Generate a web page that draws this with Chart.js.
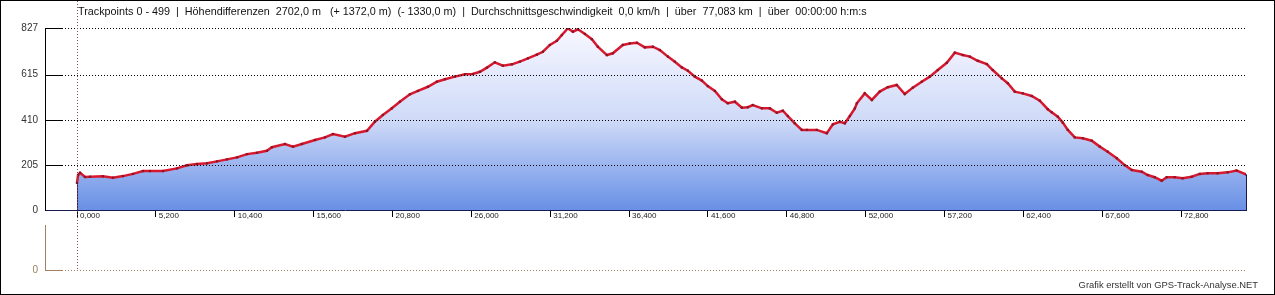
<!DOCTYPE html>
<html>
<head>
<meta charset="utf-8">
<script src="https://cdn.jsdelivr.net/npm/chart.js@4/dist/chart.umd.min.js"></script>
<style>
  html, body { margin: 0; padding: 0; background: #fff; }
  #wrap { width: 1275px; height: 295px; position: relative; }
</style>
</head>
<body>
<div id="wrap"><canvas id="profile" width="1275" height="295"></canvas></div>
<script>
// elevation profile
const distanceKm = [
    0.00, 0.07, 0.20, 0.53, 0.86, 1.71, 2.37, 3.03, 3.69, 4.35,
    4.81, 5.67, 6.59, 7.25, 7.91, 8.57, 9.23, 9.89, 10.55, 11.21,
    11.87, 12.52, 12.85, 13.71, 14.24, 14.83, 15.69, 16.35, 16.88, 17.67,
    18.33, 19.12, 19.64, 20.17, 20.76, 21.29, 21.95, 22.48, 23.14, 23.73,
    24.26, 24.92, 25.58, 26.10, 26.57, 27.03, 27.55, 28.08, 28.68, 29.20,
    29.73, 30.32, 30.72, 31.18, 31.64, 31.97, 32.37, 32.70, 33.03, 33.49,
    33.95, 34.34, 34.94, 35.33, 35.99, 36.45, 36.92, 37.44, 37.97, 38.43,
    38.96, 39.42, 39.88, 40.28, 40.74, 41.20, 41.59, 42.06, 42.52, 42.91,
    43.38, 43.84, 44.23, 44.56, 45.16, 45.68, 46.14, 46.54, 46.87, 47.33,
    47.79, 48.12, 48.78, 49.44, 49.84, 50.30, 50.63, 50.96, 51.29, 51.42,
    51.94, 52.41, 52.93, 53.46, 54.05, 54.58, 55.11, 55.70, 56.23, 56.76,
    57.35, 57.88, 58.41, 58.87, 59.39, 59.99, 60.38, 60.98, 61.37, 61.83,
    62.36, 62.95, 63.48, 64.01, 64.27, 64.67, 65.00, 65.33, 65.79, 66.32,
    66.91, 67.44, 67.96, 68.56, 69.08, 69.55, 70.20, 70.60, 71.06, 71.52,
    71.85, 72.38, 72.90, 73.50, 74.03, 74.55, 75.21, 75.87, 76.46, 77.08
];
const elevationM = [
    123, 159, 169, 150, 151, 153, 147, 154, 164, 177,
    177, 177, 189, 203, 209, 212, 221, 230, 239, 254,
    260, 269, 285, 300, 288, 300, 318, 330, 345, 333,
    349, 360, 401, 432, 462, 492, 526, 541, 560, 583,
    594, 606, 617, 618, 628, 647, 671, 656, 662, 674,
    689, 706, 719, 750, 769, 795, 826, 810, 821, 800,
    776, 742, 704, 712, 750, 757, 760, 739, 742, 727,
    697, 674, 648, 633, 606, 588, 563, 541, 503, 485,
    492, 465, 467, 477, 462, 462, 442, 451, 427, 394,
    364, 364, 364, 349, 389, 401, 394, 427, 462, 485,
    530, 500, 538, 558, 568, 527, 556, 583, 606, 636,
    669, 715, 704, 697, 678, 663, 636, 598, 576, 538,
    530, 518, 497, 458, 444, 424, 397, 364, 330, 326,
    315, 288, 265, 235, 204, 182, 174, 159, 149, 133,
    149, 149, 144, 151, 164, 167, 167, 171, 179, 162
];
const xTickKm = [0, 5.2, 10.4, 15.6, 20.8, 26.0, 31.2, 36.4, 41.6, 46.8, 52.0, 57.2, 62.4, 67.6, 72.8];
const yTickM = [0, 205, 410, 615, 827];
const titleText = 'Trackpoints 0 - 499  |  Höhendifferenzen  2702,0 m   (+ 1372,0 m)  (- 1330,0 m)  |  Durchschnittsgeschwindigkeit  0,0 km/h  |  über  77,083 km  |  über  00:00:00 h:m:s';
const creditText = 'Grafik erstellt von GPS-Track-Analyse.NET';

const FONT = '"Liberation Sans", Arial, sans-serif';

function fillGradient(context) {
    const chart = context.chart;
    const area = chart.chartArea;
    if (!area) return 'rgba(120,150,230,0.6)';
    const g = chart.ctx.createLinearGradient(0, area.top, 0, area.bottom);
    g.addColorStop(0, '#f7f7ff');
    g.addColorStop(0.5, '#d0dbf8');
    g.addColorStop(1, '#6890e6');
    return g;
}

function dotted(ctx, x1, y1, x2, y2, color) {
    ctx.save();
    ctx.strokeStyle = color;
    ctx.lineWidth = 1;
    ctx.setLineDash([1, 2]);
    ctx.beginPath();
    ctx.moveTo(x1, y1);
    ctx.lineTo(x2, y2);
    ctx.stroke();
    ctx.restore();
}

function solid(ctx, x1, y1, x2, y2, color) {
    ctx.save();
    ctx.strokeStyle = color;
    ctx.lineWidth = 1;
    ctx.beginPath();
    ctx.moveTo(x1, y1);
    ctx.lineTo(x2, y2);
    ctx.stroke();
    ctx.restore();
}

// frame, grid, lower panel and texts
const decorPlugin = {
    id: 'decor',
    beforeDraw(chart) {
        const ctx = chart.ctx;
        ctx.save();
        ctx.fillStyle = '#fff';
        ctx.fillRect(0, 0, chart.width, chart.height);
        ctx.restore();
    },
    beforeDatasetsDraw(chart) {
        const y = chart.scales.y;
        const left = chart.chartArea.left;
        yTickM.forEach(v => {
            if (v === 0) return;
            const py = Math.round(y.getPixelForValue(v)) + 0.5;
            solid(chart.ctx, left, py, left + 17, py, '#000');
        });
    },
    afterDatasetsDraw(chart) {
        const ctx = chart.ctx;
        const x = chart.scales.x, y = chart.scales.y;
        const left = chart.chartArea.left, right = chart.chartArea.right;
        const base = Math.round(y.getPixelForValue(0)) + 0.5;

        yTickM.forEach(v => {
            if (v === 0) return;
            const py = Math.round(y.getPixelForValue(v)) + 0.5;
            dotted(ctx, left + 17, py, right, py, '#000');
        });

        // closing edges of the profile polygon
        const n = distanceKm.length;
        const xs = Math.round(x.getPixelForValue(distanceKm[0])) + 0.5;
        const xe = Math.round(x.getPixelForValue(distanceKm[n - 1])) + 0.5;
        solid(ctx, xs, y.getPixelForValue(elevationM[0]), xs, base, '#3a2050');
        solid(ctx, xe, y.getPixelForValue(elevationM[n - 1]), xe, base, '#1a1a50');

        // start marker line
        dotted(ctx, xs, 1, xs, 270, '#8a4a55');

        // lower (empty) panel
        const lowY = 270.5;
        solid(ctx, left + 0.5, 225, left + 0.5, lowY, '#a08060');
        solid(ctx, left, lowY, left + 17, lowY, '#a08060');
        dotted(ctx, left + 17, lowY, right, lowY, '#a08060');
        ctx.save();
        ctx.font = '10px ' + FONT;
        ctx.fillStyle = '#9a8060';
        ctx.textAlign = 'right';
        ctx.textBaseline = 'middle';
        ctx.fillText('0', 38, 270);

        // texts
        ctx.fillStyle = '#111';
        ctx.textAlign = 'left';
        ctx.font = '10.8px ' + FONT;
        ctx.fillText(titleText, 78, 12);
        ctx.fillStyle = '#333';
        ctx.textAlign = 'right';
        ctx.font = '9.4px ' + FONT;
        ctx.fillText(creditText, 1258, 285);
        ctx.restore();

        // outer frame
        ctx.save();
        ctx.strokeStyle = '#000';
        ctx.lineWidth = 1;
        ctx.strokeRect(0.5, 0.5, chart.width - 1, chart.height - 1);
        ctx.restore();
    }
};

const ctx = document.getElementById('profile').getContext('2d');
const chart = new Chart(ctx, {
    type: 'line',
    data: {
        datasets: [{
            data: distanceKm.map((d, i) => ({ x: d, y: elevationM[i] })),
            fill: 'origin',
            backgroundColor: fillGradient,
            borderColor: '#d8182e',
            borderWidth: 2.5,
            pointStyle: 'rect',
            pointRadius: 1.6,
            pointBackgroundColor: '#8c1428',
            pointBorderColor: '#8c1428',
            pointBorderWidth: 0,
            tension: 0
        }]
    },
    options: {
        responsive: false,
        animation: false,
        events: [],
        layout: { padding: { top: 28, right: 29, bottom: 65, left: 0 } },
        plugins: {
            legend: { display: false },
            tooltip: { enabled: false }
        },
        scales: {
            x: {
                type: 'linear',
                min: -2.11,
                max: 77.08,
                afterBuildTicks: s => { s.ticks = xTickKm.map(v => ({ value: v })); },
                afterFit: s => { s.height = 20; },
                ticks: {
                    autoSkip: false,
                    maxRotation: 0,
                    align: 'start',
                    labelOffset: 3,
                    padding: -6,
                    color: '#222',
                    font: { family: FONT, size: 8 },
                    callback: v => v.toFixed(3).replace('.', ',')
                },
                grid: { drawOnChartArea: false, drawTicks: true, tickLength: 7, tickColor: '#000' },
                border: { color: '#1a1a50', width: 1 }
            },
            y: {
                min: 0,
                max: 827,
                afterBuildTicks: s => { s.ticks = yTickM.map(v => ({ value: v })); },
                afterFit: s => { s.width = 45; },
                ticks: {
                    padding: 7,
                    color: '#333',
                    font: { family: FONT, size: 10 }
                },
                grid: { drawOnChartArea: false, drawTicks: false },
                border: { color: '#000', width: 1 }
            }
        }
    },
    plugins: [decorPlugin]
});
</script>
</body>
</html>
